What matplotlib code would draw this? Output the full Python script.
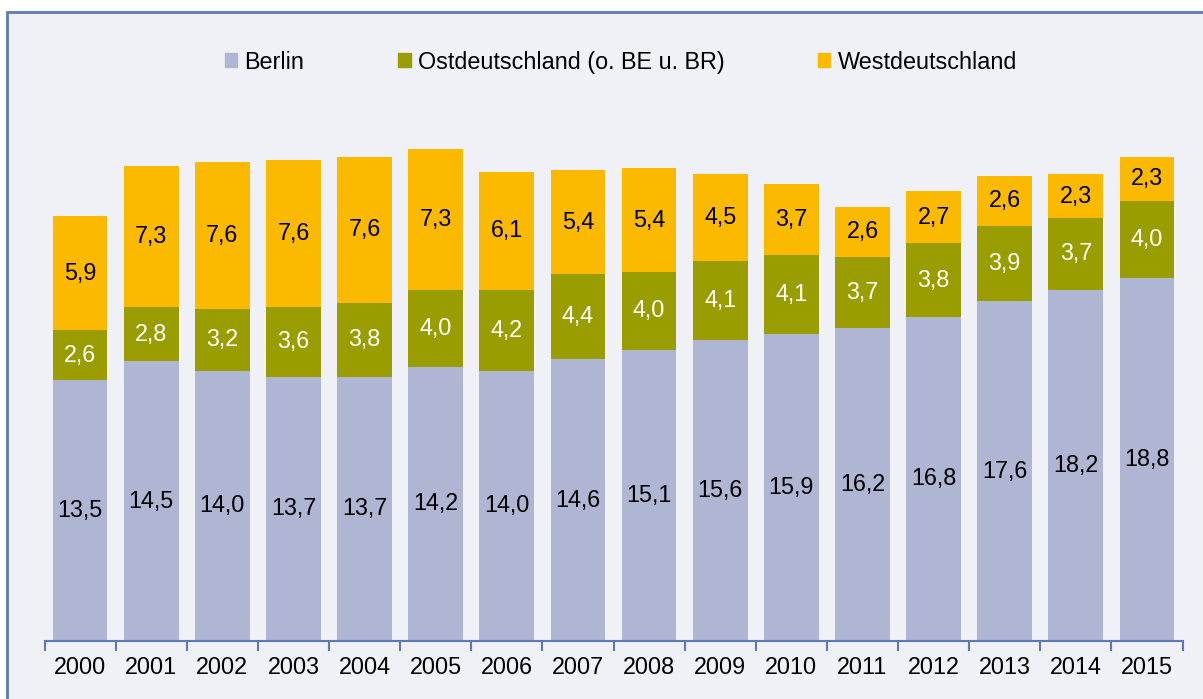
import matplotlib.pyplot as plt
from matplotlib.patches import Rectangle, Patch
import numpy as np

plt.rcParams['font.family'] = ['Liberation Sans', 'DejaVu Sans']

years = [str(y) for y in range(2000, 2016)]
berlin = [13.5, 14.5, 14.0, 13.7, 13.7, 14.2, 14.0, 14.6, 15.1, 15.6, 15.9, 16.2, 16.8, 17.6, 18.2, 18.8]
ost = [2.6, 2.8, 3.2, 3.6, 3.8, 4.0, 4.2, 4.4, 4.0, 4.1, 4.1, 3.7, 3.8, 3.9, 3.7, 4.0]
west = [5.9, 7.3, 7.6, 7.6, 7.6, 7.3, 6.1, 5.4, 5.4, 4.5, 3.7, 2.6, 2.7, 2.6, 2.3, 2.3]
names = ["Berlin", "Ostdeutschland (o. BE u. BR)", "Westdeutschland"]
colors = ["#AEB6D3", "#999D00", "#FBBA00"]
bg = "#F0F1F7"
edge = "#5B7AB5"
fs = 16.8

fig = plt.figure(figsize=(12.03, 6.99), dpi=100)
fig.patch.set_facecolor("white")
fig.patches.append(Rectangle((7/1203, -0.02), 1.05, 0.983 + 0.02, transform=fig.transFigure,
                             facecolor=bg, edgecolor=edge, linewidth=2, zorder=-5))

ax = fig.add_axes([0.037, 0.083, 0.946, 0.827])
ax.set_facecolor("none")

x = np.arange(len(years))
w = 0.77
bottom2 = np.array(berlin) + np.array(ost)
b1 = ax.bar(x, berlin, w, color=colors[0])
b2 = ax.bar(x, ost, w, bottom=berlin, color=colors[1])
b3 = ax.bar(x, west, w, bottom=bottom2, color=colors[2])

fmt = lambda v: f"{v:.1f}".replace(".", ",")
ax.bar_label(b1, labels=[fmt(v) for v in berlin], label_type="center", fontsize=fs, color="black")
ax.bar_label(b2, labels=[fmt(v) for v in ost], label_type="center", fontsize=fs, color="white")
ax.bar_label(b3, labels=[fmt(v) for v in west], label_type="center", fontsize=fs, color="black")

ax.set_xlim(-0.5, len(years) - 0.5)
ax.set_ylim(0, 29.95)
ax.set_yticks([])
for s in ["top", "right", "left"]:
    ax.spines[s].set_visible(False)
ax.spines["bottom"].set_color(edge)
ax.spines["bottom"].set_linewidth(1.5)
ax.set_xticks(x)
ax.set_xticklabels(years, fontsize=fs)
ax.tick_params(axis="x", which="major", length=0, pad=11)
ax.set_xticks(np.arange(-0.5, len(years)), minor=True)
ax.tick_params(axis="x", which="minor", length=7, width=1.5, color=edge, direction="out")

handles = [Patch(color=c) for c in colors]
fig.legend(handles, names, loc="center", bbox_to_anchor=(0.516, 0.911), ncol=3, frameon=False,
           fontsize=fs, handlelength=0.55, handleheight=0.55, handletextpad=0.3, columnspacing=4.0)

plt.savefig("out.png", dpi=100)
